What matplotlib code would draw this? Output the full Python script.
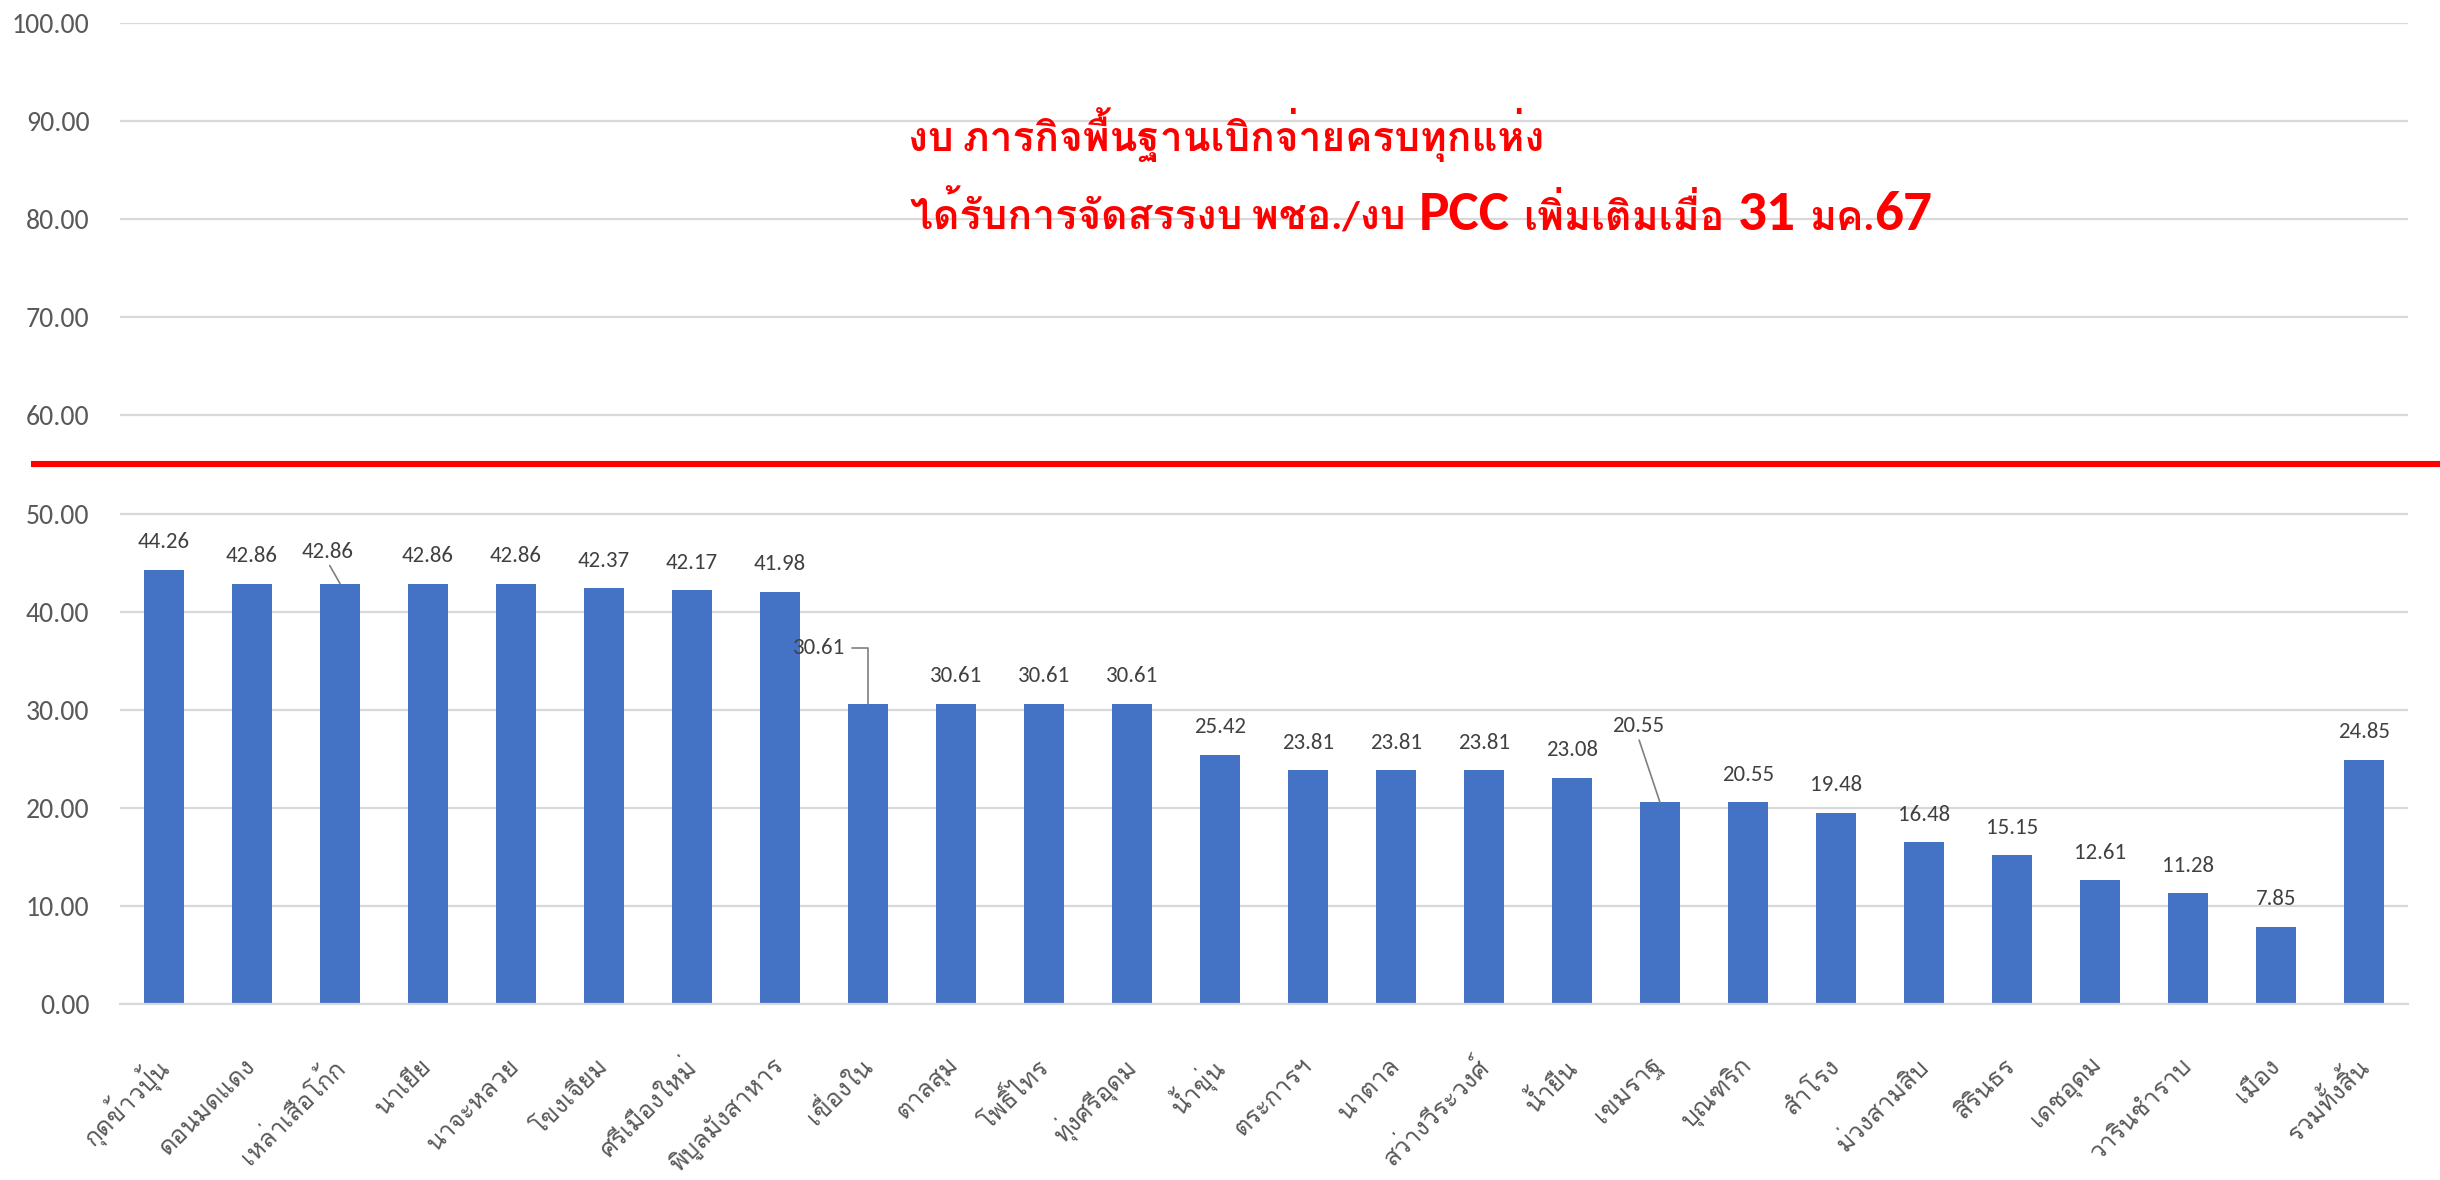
import matplotlib
matplotlib.use('Agg')
import matplotlib.pyplot as plt
import matplotlib.transforms as mtransforms
import numpy as np

# ฟอนต์: ตัวเลข/อังกฤษใช้ Carlito หรือ Lato, ภาษาไทยใช้ Loma (วรรณยุกต์วางถูกตำแหน่ง)
plt.rcParams['font.family'] = ['Carlito', 'Lato', 'Loma', 'Sarabun', 'DejaVu Sans']

# ข้อมูล
districts = ['กุดข้าวปุ้น', 'ดอนมดแดง', 'เหล่าเสือโก้ก', 'นาเยีย', 'นาจะหลวย',
             'โขงเจียม', 'ศรีเมืองใหม่', 'พิบูลมังสาหาร', 'เขื่องใน', 'ตาลสุม',
             'โพธิ์ไทร', 'ทุ่งศรีอุดม', 'น้ำขุ่น', 'ตระการฯ', 'นาตาล',
             'สว่างวีระวงศ์', 'น้ำยืน', 'เขมราฐ', 'บุณฑริก', 'สำโรง',
             'ม่วงสามสิบ', 'สิรินธร', 'เดชอุดม', 'วารินชำราบ', 'เมือง', 'รวมทั้งสิ้น']
percent = [44.26, 42.86, 42.86, 42.86, 42.86, 42.37, 42.17, 41.98, 30.61, 30.61,
           30.61, 30.61, 25.42, 23.81, 23.81, 23.81, 23.08, 20.55, 20.55, 19.48,
           16.48, 15.15, 12.61, 11.28, 7.85, 24.85]
target_line = 55

title_line1 = 'งบ ภารกิจพื้นฐานเบิกจ่ายครบทุกแห่ง'
title_line2 = [('ได้รับการจัดสรรงบ พชอ./งบ', 'th'), ('PCC', 'en'), ('เพิ่มเติมเมื่อ', 'th'),
               ('31', 'en'), ('มค.', 'th'), ('67', 'en')]

BAR_COLOR = '#4472C4'
GRID_COLOR = '#d9d9d9'
TEXT_GRAY = '#595959'
LABEL_GRAY = '#404040'

W, H = 2440, 1180
fig = plt.figure(figsize=(W / 100, H / 100), dpi=100)
ax = fig.add_axes([120 / W, 1 - 1004 / H, (2408 - 120) / W, (1004 - 23) / H])

x = np.arange(len(districts))
ax.bar(x, percent, width=0.45, color=BAR_COLOR, zorder=2)

ax.set_xlim(-0.5, len(districts) - 0.5)
ax.set_ylim(0, 100)
ax.set_yticks(np.arange(0, 101, 10))
ax.set_yticklabels([f'{v:.2f}' for v in np.arange(0, 101, 10)], fontsize=20, color=TEXT_GRAY)
ax.tick_params(axis='y', length=0, pad=22)
ax.set_xticks(x)
ax.set_xticklabels(districts, rotation=45, ha='right', va='center', rotation_mode='anchor',
                   fontsize=18, color=TEXT_GRAY)
ax.tick_params(axis='x', length=0, pad=42)

ax.yaxis.grid(True, color=GRID_COLOR, lw=1.6, zorder=0)
ax.set_axisbelow(True)
for side in ['left', 'right', 'top']:
    ax.spines[side].set_visible(False)
ax.spines['bottom'].set_color(GRID_COLOR)
ax.spines['bottom'].set_linewidth(1.6)

# ป้ายค่าบนแท่ง (บางแท่งมีเส้นชี้)
offsets = {2: (-9, 23, 'line'), 8: (-35, 40, 'elbow'), 17: (-16, 55, 'line')}
for i, v in enumerate(percent):
    dx, dy, kind = offsets.get(i, (0, 20, None))
    arrow = None
    if kind == 'line':
        arrow = dict(arrowstyle='-', color='#7f7f7f', lw=1.2, relpos=(0.5, 0.0),
                     shrinkA=1, shrinkB=0)
    elif kind == 'elbow':
        arrow = dict(arrowstyle='-', color='#7f7f7f', lw=1.2, relpos=(1.0, 0.5),
                     shrinkA=3, shrinkB=0, connectionstyle='angle,angleA=0,angleB=90,rad=0')
    ax.annotate(f'{v:.2f}', (i, v), xytext=(dx, dy), textcoords='offset points',
                ha='center', va='center', fontsize=16.5, color=LABEL_GRAY,
                arrowprops=arrow, zorder=3)

# เส้นสีแดงที่ 55%
trans = mtransforms.blended_transform_factory(fig.transFigure, ax.transData)
ax.plot([34 / W, 1.0], [target_line, target_line], color='#ff0000', lw=4.4,
        transform=trans, clip_on=False, zorder=4)

# ข้อความสีแดง
fig.canvas.draw()
renderer = fig.canvas.get_renderer()

t1 = fig.text(908 / W, 1 - 151 / H, title_line1, fontsize=30, color='#ff0000',
              fontweight='bold', ha='left', va='baseline')
w1 = t1.get_window_extent(renderer).width
t1.set_fontsize(30 * 637 / w1)


def place_parts(x0, y0, parts, base):
    objs = []
    xpos = x0
    for txt, kind in parts:
        size = base * (1.4 if kind == 'en' else 1.0)
        t = fig.text(xpos / W, 1 - y0 / H, txt, fontsize=size, color='#ff0000',
                     fontweight='bold', ha='left', va='baseline')
        wpx = t.get_window_extent(renderer).width
        gap = 0 if txt.endswith('.') else base * 0.45
        xpos += wpx + gap
        objs.append(t)
    return objs, xpos - x0


base = 30
objs, total = place_parts(910, 230, title_line2, base)
for o in objs:
    o.remove()
base = base * 1035 / total
place_parts(910, 230, title_line2, base)

fig.savefig('out.png', dpi=100)
